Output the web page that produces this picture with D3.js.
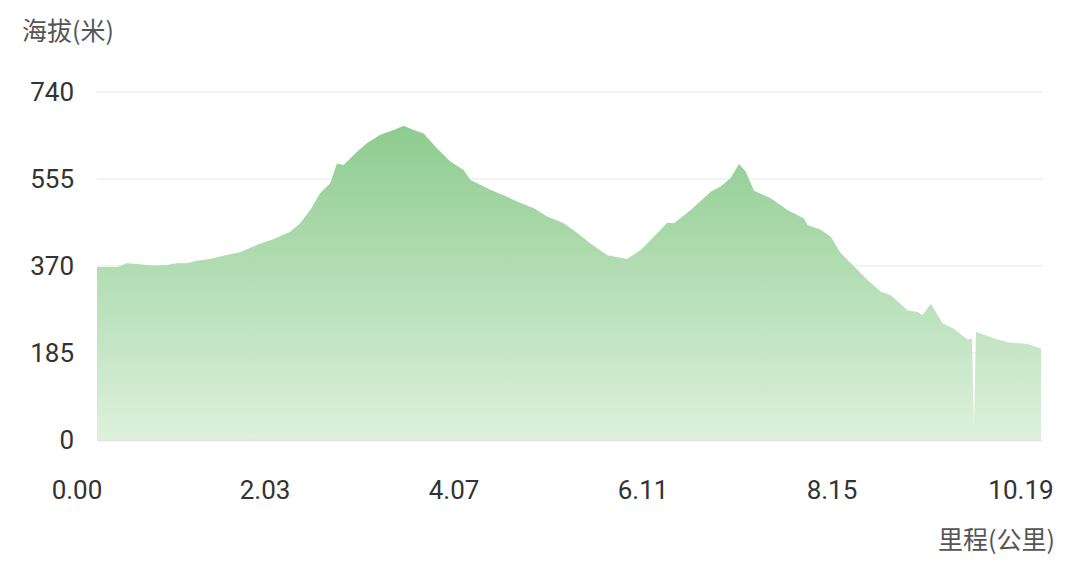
<!DOCTYPE html>
<html>
<head>
<meta charset="utf-8">
<script src="https://cdn.jsdelivr.net/npm/d3@7"></script>
<style>
  html, body { margin: 0; padding: 0; background: #fff; }
  svg { display: block; }
</style>
</head>
<body>
<div id="chart"></div>
<script>
// Elevation profile: distance in km, altitude in metres
const distanceKm = [
  0.00, 0.227, 0.321, 0.429, 0.605, 0.753, 0.861, 0.969, 1.077, 1.221,
  1.362, 1.545, 1.726, 1.902, 2.086, 2.194, 2.302, 2.410, 2.518, 2.590,
  2.662, 2.806, 2.914, 3.058, 3.202, 3.310, 3.418, 3.526, 3.671, 3.815,
  3.958, 4.031, 4.247, 4.427, 4.535, 4.715, 4.859, 5.039, 5.184, 5.327,
  5.508, 5.724, 5.868, 6.011, 6.156, 6.228, 6.408, 6.588, 6.624, 6.732,
  6.840, 6.930, 7.002, 7.092, 7.273, 7.453, 7.632, 7.669, 7.813, 7.921,
  8.029, 8.173, 8.317, 8.461, 8.569, 8.749, 8.858, 8.912, 9.001, 9.128,
  9.253, 9.398, 9.444, 9.466, 9.488, 9.686, 9.830, 10.046, 10.19
];
const altitudeM = [
  368, 368, 376, 374, 371, 372, 376, 376, 381, 385,
  392, 399, 415, 427, 443, 461, 489, 525, 546, 588,
  585, 613, 631, 649, 659, 668, 659, 652, 620, 592,
  574, 553, 532, 517, 507, 493, 475, 461, 440, 418,
  393, 385, 404, 432, 462, 461, 489, 521, 528, 539,
  557, 587, 571, 530, 514, 489, 471, 457, 447, 432,
  397, 369, 340, 315, 308, 276, 272, 266, 289, 248,
  236, 213, 216, 28, 230, 216, 208, 204, 194
];

const yTicks = [0, 185, 370, 555, 740];
const xTicks = [0.00, 2.03, 4.07, 6.11, 8.15, 10.19];
const yTitle = "海拔(米)";
const xTitle = "里程(公里)";

const width = 1080, height = 571;
const margin = { top: 92, right: 39, bottom: 131, left: 97 };
const innerW = width - margin.left - margin.right;
const innerH = height - margin.top - margin.bottom;
const numFont = "Roboto, 'Noto Sans', sans-serif";
const cjkFont = "'Noto Sans CJK SC', sans-serif";

const data = distanceKm.map((d, i) => ({ km: d, alt: altitudeM[i] }));

const svg = d3.select("#chart").append("svg")
  .attr("width", width)
  .attr("height", height);

const x = d3.scaleLinear().domain([0, 10.19]).range([0, innerW]);
const y = d3.scaleLinear().domain([0, 740]).range([innerH, 0]);

const defs = svg.append("defs");
const grad = defs.append("linearGradient")
  .attr("id", "fillGrad")
  .attr("gradientUnits", "userSpaceOnUse")
  .attr("x1", 0).attr("x2", 0)
  .attr("y1", y(680)).attr("y2", y(0));
grad.append("stop").attr("offset", "0%").attr("stop-color", "#8ccb8d");
grad.append("stop").attr("offset", "100%").attr("stop-color", "#ddf1dd");

const g = svg.append("g")
  .attr("transform", `translate(${margin.left},${margin.top})`);

// horizontal grid lines
g.selectAll("line.grid")
  .data(yTicks.filter(d => d > 0))
  .join("line")
  .attr("class", "grid")
  .attr("x1", 0).attr("x2", innerW + 1)
  .attr("y1", d => y(d)).attr("y2", d => y(d))
  .attr("stroke", "#efefef")
  .attr("stroke-width", 1.5);

// elevation area
const area = d3.area()
  .x(d => x(d.km))
  .y0(y(0))
  .y1(d => y(d.alt))
  .curve(d3.curveLinear);

g.append("path")
  .datum(data)
  .attr("d", area)
  .attr("fill", "url(#fillGrad)");

// baseline
g.append("line")
  .attr("x1", 0).attr("x2", innerW + 1)
  .attr("y1", y(0) + 0.5).attr("y2", y(0) + 0.5)
  .attr("stroke", "#e2e2e2")
  .attr("stroke-width", 1.5);

// y tick labels
svg.append("g")
  .selectAll("text")
  .data(yTicks)
  .join("text")
  .attr("x", 74)
  .attr("y", d => margin.top + y(d))
  .attr("dy", "0.36em")
  .attr("text-anchor", "end")
  .attr("font-family", numFont)
  .attr("font-size", 26)
  .attr("fill", "#333")
  .text(d => d);

// x tick labels (drawn slightly left of their tick)
svg.append("g")
  .selectAll("text")
  .data(xTicks)
  .join("text")
  .attr("x", d => margin.left + x(d) - 20)
  .attr("y", 490)
  .attr("dy", "0.36em")
  .attr("text-anchor", "middle")
  .attr("font-family", numFont)
  .attr("font-size", 26)
  .attr("fill", "#333")
  .text(d => d.toFixed(2));

// axis titles
svg.append("text")
  .attr("x", 22)
  .attr("y", 31)
  .attr("dy", "0.36em")
  .attr("font-family", cjkFont)
  .attr("font-size", 25)
  .attr("fill", "#555")
  .text(yTitle);

svg.append("text")
  .attr("x", 1055)
  .attr("y", 540)
  .attr("dy", "0.36em")
  .attr("text-anchor", "end")
  .attr("font-family", cjkFont)
  .attr("font-size", 25)
  .attr("fill", "#555")
  .text(xTitle);
</script>
</body>
</html>
